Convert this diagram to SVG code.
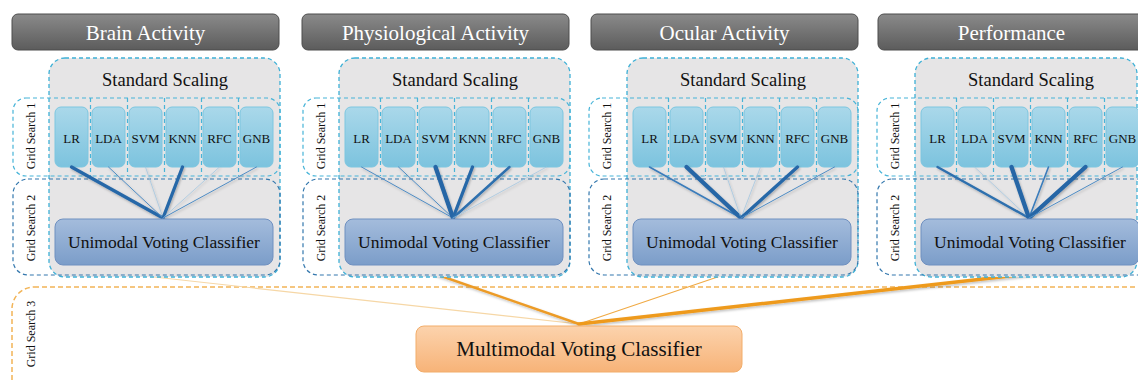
<svg xmlns="http://www.w3.org/2000/svg" width="1138" height="381" viewBox="0 0 1138 381" font-family="'Liberation Serif', 'Times New Roman', 'DejaVu Serif', serif">
<defs>
<linearGradient id="gHdr" x1="0" y1="0" x2="0" y2="1"><stop offset="0" stop-color="#8a8a8a"/><stop offset="1" stop-color="#5c5c5c"/></linearGradient>
<linearGradient id="gMod" x1="0" y1="0" x2="0" y2="1"><stop offset="0" stop-color="#aad8ea"/><stop offset="1" stop-color="#7cc3de"/></linearGradient>
<linearGradient id="gUni" x1="0" y1="0" x2="0" y2="1"><stop offset="0" stop-color="#a4bcdc"/><stop offset="1" stop-color="#7b9dc9"/></linearGradient>
<linearGradient id="gMul" x1="0" y1="0" x2="0" y2="1"><stop offset="0" stop-color="#fcd3ad"/><stop offset="1" stop-color="#f7b378"/></linearGradient>
<filter id="sh" x="-10%" y="-10%" width="120%" height="130%"><feDropShadow dx="1" dy="1.5" stdDeviation="1" flood-color="#000" flood-opacity="0.25"/></filter>
</defs>
<style>
text{font-family:'Liberation Serif','Times New Roman','DejaVu Serif',serif;text-anchor:middle;fill:#111}
.hdr{fill:url(#gHdr);stroke:#4d4d4d;stroke-width:1}
.hdrt{fill:#fff;font-size:21px}
.scal{fill:#e6e5e6;stroke:#3eb0d6;stroke-width:1.3;stroke-dasharray:4 3}
.st{font-size:18.5px}
.gs1{fill:none;stroke:#47b4d8;stroke-width:1.2;stroke-dasharray:4 3}
.gs2{fill:none;stroke:#3377ad;stroke-width:1.2;stroke-dasharray:4 3}
.gs3{fill:none;stroke:#f2b457;stroke-width:1.5;stroke-dasharray:5 3}
.gst{font-size:12px}
.mod{fill:url(#gMod);stroke:#7cc6e0;stroke-width:1}
.mt{font-size:13px}
.uni{fill:url(#gUni);stroke:#6f90c0;stroke-width:1}
.ut{font-size:17.5px}
.mul{fill:url(#gMul);stroke:#f2ad6a;stroke-width:1}
.mlt{font-size:21px}
.bl{fill:none;stroke-linecap:round}
.w1{stroke:#9cc3e0;stroke-width:0.7}
.w2{stroke:#4f8cc4;stroke-width:1}
.w3{stroke:#3a7cbb;stroke-width:1.6}
.w4{stroke:#2d6fae;stroke-width:2.4}
.w5{stroke:#2868a8;stroke-width:3.3}
.w6{stroke:#2566a6;stroke-width:4.3}
.ol{fill:none;stroke-linecap:round}
</style>

<g id="grid-search-3">
<rect class="gs3" x="12" y="287" width="1150" height="130" rx="22"/>
<text class="gst" transform="translate(35,334) rotate(-90)">Grid Search 3</text>
</g>

<g id="orange-connectors">
<line class="ol" x1="100" y1="271" x2="579" y2="324" stroke="#f6d7a6" stroke-width="1.2"/>
<line class="ol" x1="418" y1="268" x2="579" y2="324" stroke="#ec9b27" stroke-width="2.4" filter="url(#sh)"/>
<line class="ol" x1="744" y1="268" x2="579" y2="324" stroke="#f0aa45" stroke-width="1.1"/>
<line class="ol" x1="1082" y1="268" x2="579" y2="324" stroke="#ee9a1e" stroke-width="3.4" filter="url(#sh)"/>
</g>

<!-- Panel 1 -->
<g id="panel-brain">
<g id="brain-header"><rect class="hdr" x="12" y="14" width="267" height="36" rx="6"/><text class="hdrt" x="145.5" y="40">Brain Activity</text></g>
<g id="brain-scaling"><rect class="scal" x="49" y="58" width="231" height="219" rx="16"/><text class="st" x="165" y="86">Standard Scaling</text></g>
<g id="brain-gs1"><rect class="gs1" x="13" y="98" width="267" height="78" rx="13"/><path class="gs1" d="M90.5 98V176M127.5 98V176M164.5 98V176M201.5 98V176M238.5 98V176"/><text class="gst" transform="translate(35,136) rotate(-90)">Grid Search 1</text></g>
<g id="brain-gs2"><rect class="gs2" x="13" y="179" width="267" height="96" rx="15"/><text class="gst" transform="translate(35,228) rotate(-90)">Grid Search 2</text></g>
<g id="brain-LR"><rect class="mod" x="55" y="107" width="33" height="60" rx="6"/><text class="mt" x="71.5" y="143">LR</text></g>
<g id="brain-LDA"><rect class="mod" x="92" y="107" width="33" height="60" rx="6"/><text class="mt" x="108.5" y="143">LDA</text></g>
<g id="brain-SVM"><rect class="mod" x="129" y="107" width="33" height="60" rx="6"/><text class="mt" x="145.5" y="143">SVM</text></g>
<g id="brain-KNN"><rect class="mod" x="166" y="107" width="33" height="60" rx="6"/><text class="mt" x="182.5" y="143">KNN</text></g>
<g id="brain-RFC"><rect class="mod" x="203" y="107" width="33" height="60" rx="6"/><text class="mt" x="219.5" y="143">RFC</text></g>
<g id="brain-GNB"><rect class="mod" x="240" y="107" width="33" height="60" rx="6"/><text class="mt" x="256.5" y="143">GNB</text></g>
<g id="brain-connectors" class="bl" filter="url(#sh)">
<line class="w5" x1="71.5" y1="167" x2="163" y2="218"/>
<line class="w2" x1="108.5" y1="167" x2="163" y2="218"/>
<line class="w1" x1="145.5" y1="167" x2="163" y2="218"/>
<line class="w5" x1="182.5" y1="167" x2="163" y2="218"/>
<line class="w1" x1="219.5" y1="167" x2="163" y2="218"/>
<line class="w2" x1="256.5" y1="167" x2="163" y2="218"/>
</g>
<g id="brain-unimodal"><rect class="uni" x="55" y="219" width="218" height="46" rx="8"/><text class="ut" x="164" y="248">Unimodal Voting Classifier</text></g>
</g>

<!-- Panel 2 -->
<g id="panel-physio" transform="translate(290,0)">
<g id="physio-header"><rect class="hdr" x="12" y="14" width="267" height="36" rx="6"/><text class="hdrt" x="145.5" y="40">Physiological Activity</text></g>
<g id="physio-scaling"><rect class="scal" x="49" y="58" width="231" height="219" rx="16"/><text class="st" x="165" y="86">Standard Scaling</text></g>
<g id="physio-gs1"><rect class="gs1" x="13" y="98" width="267" height="78" rx="13"/><path class="gs1" d="M90.5 98V176M127.5 98V176M164.5 98V176M201.5 98V176M238.5 98V176"/><text class="gst" transform="translate(35,136) rotate(-90)">Grid Search 1</text></g>
<g id="physio-gs2"><rect class="gs2" x="13" y="179" width="267" height="96" rx="15"/><text class="gst" transform="translate(35,228) rotate(-90)">Grid Search 2</text></g>
<g id="physio-LR"><rect class="mod" x="55" y="107" width="33" height="60" rx="6"/><text class="mt" x="71.5" y="143">LR</text></g>
<g id="physio-LDA"><rect class="mod" x="92" y="107" width="33" height="60" rx="6"/><text class="mt" x="108.5" y="143">LDA</text></g>
<g id="physio-SVM"><rect class="mod" x="129" y="107" width="33" height="60" rx="6"/><text class="mt" x="145.5" y="143">SVM</text></g>
<g id="physio-KNN"><rect class="mod" x="166" y="107" width="33" height="60" rx="6"/><text class="mt" x="182.5" y="143">KNN</text></g>
<g id="physio-RFC"><rect class="mod" x="203" y="107" width="33" height="60" rx="6"/><text class="mt" x="219.5" y="143">RFC</text></g>
<g id="physio-GNB"><rect class="mod" x="240" y="107" width="33" height="60" rx="6"/><text class="mt" x="256.5" y="143">GNB</text></g>
<g id="physio-connectors" class="bl" filter="url(#sh)">
<line class="w2" x1="71.5" y1="167" x2="163" y2="218"/>
<line class="w2" x1="108.5" y1="167" x2="163" y2="218"/>
<line class="w6" x1="145.5" y1="167" x2="163" y2="218"/>
<line class="w5" x1="182.5" y1="167" x2="163" y2="218"/>
<line class="w4" x1="219.5" y1="167" x2="163" y2="218"/>
<line class="w1" x1="256.5" y1="167" x2="163" y2="218"/>
</g>
<g id="physio-unimodal"><rect class="uni" x="55" y="219" width="218" height="46" rx="8"/><text class="ut" x="164" y="248">Unimodal Voting Classifier</text></g>
</g>

<!-- Panel 3 -->
<g id="panel-ocular" transform="translate(578,0)">
<g id="ocular-header"><rect class="hdr" x="13" y="14" width="267" height="36" rx="6"/><text class="hdrt" x="146.5" y="40">Ocular Activity</text></g>
<g id="ocular-scaling"><rect class="scal" x="49" y="58" width="231" height="219" rx="16"/><text class="st" x="165" y="86">Standard Scaling</text></g>
<g id="ocular-gs1"><rect class="gs1" x="11" y="98" width="269" height="78" rx="13"/><path class="gs1" d="M90.5 98V176M127.5 98V176M164.5 98V176M201.5 98V176M238.5 98V176"/><text class="gst" transform="translate(33,136) rotate(-90)">Grid Search 1</text></g>
<g id="ocular-gs2"><rect class="gs2" x="11" y="179" width="269" height="96" rx="15"/><text class="gst" transform="translate(33,228) rotate(-90)">Grid Search 2</text></g>
<g id="ocular-LR"><rect class="mod" x="55" y="107" width="33" height="60" rx="6"/><text class="mt" x="71.5" y="143">LR</text></g>
<g id="ocular-LDA"><rect class="mod" x="92" y="107" width="33" height="60" rx="6"/><text class="mt" x="108.5" y="143">LDA</text></g>
<g id="ocular-SVM"><rect class="mod" x="129" y="107" width="33" height="60" rx="6"/><text class="mt" x="145.5" y="143">SVM</text></g>
<g id="ocular-KNN"><rect class="mod" x="166" y="107" width="33" height="60" rx="6"/><text class="mt" x="182.5" y="143">KNN</text></g>
<g id="ocular-RFC"><rect class="mod" x="203" y="107" width="33" height="60" rx="6"/><text class="mt" x="219.5" y="143">RFC</text></g>
<g id="ocular-GNB"><rect class="mod" x="240" y="107" width="33" height="60" rx="6"/><text class="mt" x="256.5" y="143">GNB</text></g>
<g id="ocular-connectors" class="bl" filter="url(#sh)">
<line class="w3" x1="71.5" y1="167" x2="163" y2="218"/>
<line class="w6" x1="108.5" y1="167" x2="163" y2="218"/>
<line class="w1" x1="145.5" y1="167" x2="163" y2="218"/>
<line class="w1" x1="182.5" y1="167" x2="163" y2="218"/>
<line class="w5" x1="219.5" y1="167" x2="163" y2="218"/>
<line class="w2" x1="256.5" y1="167" x2="163" y2="218"/>
</g>
<g id="ocular-unimodal"><rect class="uni" x="55" y="219" width="218" height="46" rx="8"/><text class="ut" x="164" y="248">Unimodal Voting Classifier</text></g>
</g>

<!-- Panel 4 -->
<g id="panel-perf" transform="translate(866,0)">
<g id="perf-header"><rect class="hdr" x="12" y="14" width="280" height="36" rx="6"/><text class="hdrt" x="145.5" y="40">Performance</text></g>
<g id="perf-scaling"><rect class="scal" x="49" y="58" width="222" height="219" rx="16"/><text class="st" x="165" y="86">Standard Scaling</text></g>
<g id="perf-gs1"><rect class="gs1" x="11" y="98" width="280" height="78" rx="13"/><path class="gs1" d="M90.5 98V176M127.5 98V176M164.5 98V176M201.5 98V176M238.5 98V176"/><text class="gst" transform="translate(33,136) rotate(-90)">Grid Search 1</text></g>
<g id="perf-gs2"><rect class="gs2" x="11" y="179" width="280" height="96" rx="15"/><text class="gst" transform="translate(33,228) rotate(-90)">Grid Search 2</text></g>
<g id="perf-LR"><rect class="mod" x="55" y="107" width="33" height="60" rx="6"/><text class="mt" x="71.5" y="143">LR</text></g>
<g id="perf-LDA"><rect class="mod" x="92" y="107" width="33" height="60" rx="6"/><text class="mt" x="108.5" y="143">LDA</text></g>
<g id="perf-SVM"><rect class="mod" x="129" y="107" width="33" height="60" rx="6"/><text class="mt" x="145.5" y="143">SVM</text></g>
<g id="perf-KNN"><rect class="mod" x="166" y="107" width="33" height="60" rx="6"/><text class="mt" x="182.5" y="143">KNN</text></g>
<g id="perf-RFC"><rect class="mod" x="203" y="107" width="33" height="60" rx="6"/><text class="mt" x="219.5" y="143">RFC</text></g>
<g id="perf-GNB"><rect class="mod" x="240" y="107" width="33" height="60" rx="6"/><text class="mt" x="256.5" y="143">GNB</text></g>
<g id="perf-connectors" class="bl" filter="url(#sh)">
<line class="w4" x1="71.5" y1="167" x2="163" y2="218"/>
<line class="w1" x1="108.5" y1="167" x2="163" y2="218"/>
<line class="w6" x1="145.5" y1="167" x2="163" y2="218"/>
<line class="w3" x1="182.5" y1="167" x2="163" y2="218"/>
<line class="w6" x1="219.5" y1="167" x2="163" y2="218"/>
<line class="w2" x1="256.5" y1="167" x2="163" y2="218"/>
</g>
<g id="perf-unimodal"><rect class="uni" x="55" y="219" width="218" height="46" rx="8"/><text class="ut" x="164" y="248">Unimodal Voting Classifier</text></g>
</g>

<g id="multimodal"><rect class="mul" x="416" y="326" width="326" height="46" rx="8"/><text class="mlt" x="579" y="356">Multimodal Voting Classifier</text></g>
</svg>
